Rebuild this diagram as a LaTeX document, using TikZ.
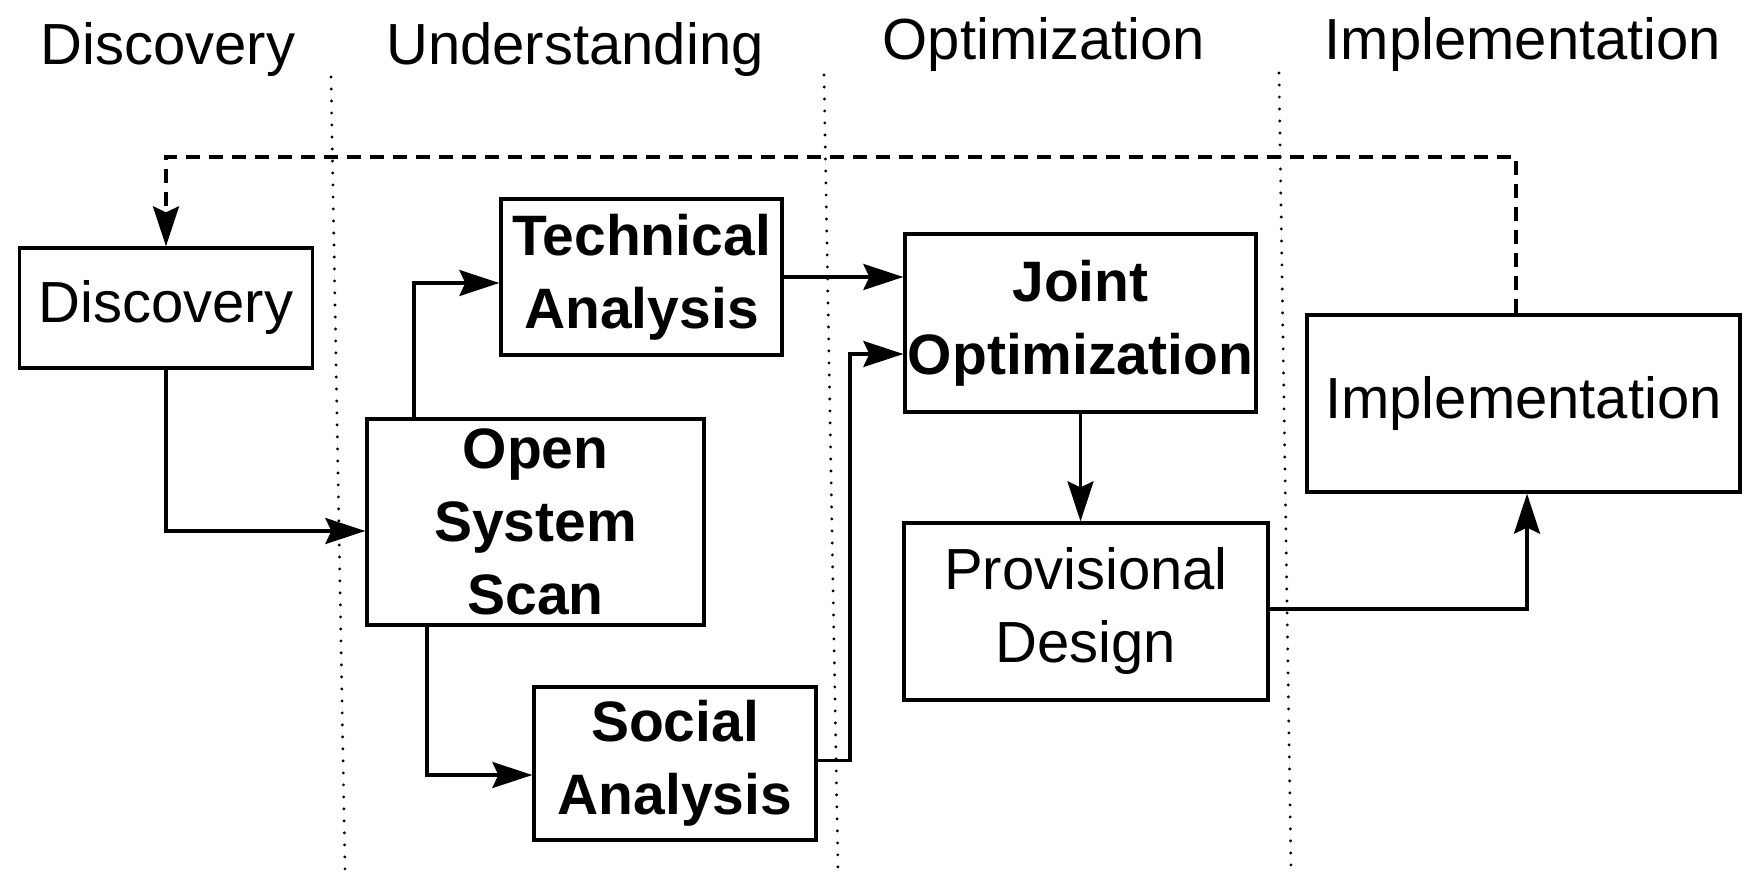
\documentclass[tikz,border=0pt]{standalone}
\usepackage{fontspec}
\setmainfont{Liberation Sans}
\usetikzlibrary{arrows.meta}
\begin{document}
\begin{tikzpicture}[x=1pt,y=-1pt,
  box/.style={draw, line width=3.3pt, inner sep=0pt, align=center, font=\fontsize{58}{73}\selectfont},
  bbox/.style={box, font=\fontsize{57}{73}\selectfont\bfseries},
  hdr/.style={anchor=base, inner sep=0pt, font=\fontsize{58}{70}\selectfont},
  conn/.style={line width=3.2pt, -{Stealth[length=40pt,width=26pt,inset=6pt]}},
  fbk/.style={conn, dash pattern=on 14pt off 9pt},
  sep/.style={line width=3.2pt, line cap=round, dash pattern=on 0pt off 12pt}]
\useasboundingbox (0,0) rectangle (1746,877);

% column headers
\node[hdr] (h1) at (168,65) {Discovery};
\node[hdr] (h2) at (575,65) {Understanding};
\node[hdr] (h3) at (1044,60) {Optimization};
\node[hdr] (h4) at (1523,60) {Implementation};

% separators
\draw[sep] (331,77) -- (345,870);
\draw[sep] (824,75) -- (838,870);
\draw[sep] (1279,73) -- (1291,870);

% boxes
\node[box, minimum width=293pt, minimum height=120pt] (disc) at (166,308) {Discovery};
\node[bbox, minimum width=281pt, minimum height=156pt] (tech) at (641.5,277) {Technical\\Analysis};
\node[bbox, minimum width=337pt, minimum height=206pt] (oss) at (535.5,522) {Open\\System\\Scan};
\node[bbox, minimum width=282pt, minimum height=153pt] (soc) at (675,763.5) {Social\\Analysis};
\node[bbox, minimum width=351pt, minimum height=178pt] (joint) at (1080.5,323) {Joint\\Optimization};
\node[box, minimum width=364pt, minimum height=177pt] (prov) at (1086,611.5) {Provisional\\Design};
\node[box, minimum width=433pt, minimum height=177pt] (impl) at (1523.5,403.5) {Implementation};

% connectors
\draw[conn] (disc.south) |- ([yshift=-9pt]oss.west);
\draw[conn] ([xshift=-121.5pt]oss.north) |- ([yshift=-6pt]tech.west);
\draw[conn] ([xshift=-108.5pt]oss.south) |- ([yshift=-11.5pt]soc.west);
\draw[conn] (tech.east) -- (tech.east -| joint.west);
\coordinate (sj) at (850,354);
\draw[conn] ([yshift=3pt]soc.east) -| (sj) -- (sj -| joint.west);
\draw[conn] (joint.south) -- (joint.south |- prov.north);
\draw[conn] ([yshift=2.5pt]prov.east) -| ([xshift=3.5pt]impl.south);
\coordinate (fb) at (164,157);
\draw[fbk] ([xshift=-7.5pt]impl.north) |- (disc.north |- fb) -- (disc.north);
\end{tikzpicture}
\end{document}
